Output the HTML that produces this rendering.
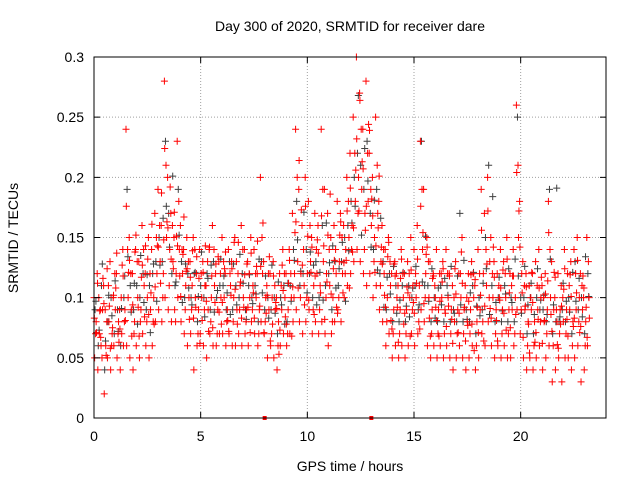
<!DOCTYPE html>
<html><head><meta charset="utf-8"><style>
html,body{margin:0;padding:0;background:#fff}
svg{display:block;font-family:"Liberation Sans",sans-serif}
</style></head><body>
<svg id="chart" width="640" height="480" viewBox="0 0 640 480" xmlns="http://www.w3.org/2000/svg">
<rect width="640" height="480" fill="#fff"/>
<g id="grid"></g>
<g id="marks"></g>
<rect x="94" y="57" width="512" height="361" fill="none" stroke="#000" stroke-width="1"/>
<g id="ticks"></g>
<text x="350" y="31" font-size="14" text-anchor="middle">Day 300 of 2020, SRMTID for receiver dare</text>
<text x="350" y="471" font-size="14" text-anchor="middle">GPS time / hours</text>
<text x="18" y="238" font-size="14" text-anchor="middle" transform="rotate(-90 18 238)">SRMTID / TECUs</text>
</svg>
<script>
const xTicks=[0,5,10,15,20];
const yTicks=[0,0.05,0.1,0.15,0.2,0.25,0.3];
const yTickLabels=["0","0.05","0.1","0.15","0.2","0.25","0.3"];
const timeStep=0.15;
const markerTimes=[8,13];
const redA=[.10,.12,.09,.11,.08,.13,.10,.12,.09,.14,.24,.15,.12,.14,.13,.16,.12,.15,.14,.17,.19,.16,.28,.2,.17,.15,.23,.16,.14,.15,.13,.15,.12,.14,.13,.11,.14,.16,.12,.13,.15,.12,.14,.13,.15,.12,.16,.14,.13,.15,.14,.12,.2,.13,.11,.12,.13,.10,.12,.14,.12,.14,.17,.24,.19,.16,.2,.18,.15,.17,.16,.24,.19,.17,.15,.16,.18,.17,.16,.2,.22,.25,.3,.27,.24,.28,.22,.2,.25,.18,.16,.14,.15,.12,.13,.11,.14,.12,.13,.15,.14,.16,.23,.19,.15,.13,.12,.14,.12,.13,.14,.12,.11,.13,.12,.15,.11,.12,.13,.11,.14,.19,.17,.2,.15,.13,.12,.14,.13,.15,.12,.14,.26,.18,.13,.12,.11,.12,.13,.14,.11,.12,.18,.13,.10,.12,.11,.14,.12,.13,.14,.15,.12,.10,.15];
const redB=[.08,.07,.09,.06,.08,.07,.09,.08,.07,.09,.10,.09,.08,.10,.09,.11,.10,.09,.10,.12,.13,.12,.15,.14,.13,.12,.14,.12,.11,.10,.11,.10,.09,.10,.11,.09,.10,.11,.09,.10,.10,.09,.11,.10,.09,.11,.10,.09,.10,.11,.10,.09,.12,.10,.09,.10,.09,.08,.09,.10,.09,.10,.12,.13,.12,.11,.12,.13,.11,.12,.11,.13,.12,.11,.10,.12,.13,.12,.14,.15,.16,.18,.20,.19,.17,.18,.16,.15,.17,.13,.12,.10,.11,.09,.10,.09,.10,.09,.10,.11,.10,.11,.14,.12,.10,.09,.10,.09,.10,.09,.10,.09,.08,.09,.10,.09,.08,.09,.10,.08,.09,.12,.11,.13,.10,.09,.10,.09,.10,.09,.09,.10,.15,.12,.09,.08,.09,.08,.09,.10,.08,.09,.10,.09,.08,.09,.08,.09,.09,.08,.09,.10,.09,.08,.10];
const redC=[.05,.04,.06,.02,.05,.04,.06,.05,.04,.06,.06,.05,.04,.06,.05,.07,.06,.05,.06,.08,.09,.08,.10,.09,.08,.09,.10,.08,.07,.06,.07,.04,.06,.07,.06,.05,.07,.06,.06,.07,.07,.06,.07,.06,.06,.07,.06,.07,.06,.08,.07,.06,.08,.07,.05,.06,.05,.04,.06,.07,.06,.07,.08,.09,.08,.07,.08,.09,.07,.08,.07,.08,.07,.06,.07,.08,.09,.08,.10,.11,.12,.13,.14,.13,.12,.11,.12,.10,.11,.09,.08,.06,.07,.05,.06,.05,.06,.05,.06,.07,.06,.07,.09,.08,.06,.05,.06,.05,.06,.05,.06,.05,.04,.05,.06,.05,.04,.05,.06,.04,.05,.07,.06,.08,.06,.05,.06,.05,.06,.05,.05,.06,.09,.07,.05,.04,.05,.04,.05,.06,.04,.05,.06,.03,.04,.05,.03,.05,.05,.04,.05,.06,.03,.04,.06];
const redD=[.07,.10,.05,.09,.11,.06,.12,.07,.10,.08,.14,.12,.07,.13,.08,.14,.08,.12,.08,.15,.16,.10,.21,.11,.16,.08,.18,.14,.09,.13,.09,.14,.07,.12,.09,.13,.08,.14,.07,.12,.13,.08,.12,.08,.13,.09,.14,.08,.12,.09,.12,.07,.15,.08,.12,.07,.11,.06,.11,.12,.07,.12,.10,.20,.10,.14,.10,.16,.09,.14,.09,.19,.10,.14,.08,.14,.10,.15,.12,.18,.14,.22,.17,.24,.14,.22,.19,.13,.21,.11,.14,.08,.13,.07,.12,.07,.12,.07,.12,.09,.12,.08,.19,.10,.13,.07,.11,.07,.12,.07,.12,.07,.10,.07,.12,.07,.10,.07,.12,.06,.12,.08,.14,.10,.12,.07,.11,.07,.12,.07,.11,.07,.21,.09,.11,.06,.10,.06,.11,.08,.10,.07,.14,.06,.09,.07,.10,.07,.11,.06,.12,.08,.11,.06,.13];
const redF=[.083,.112,.067,.095,.124,.058,.102,.137,.074,.118,.176,.131,.094,.152,.068,.127,.143,.086,.161,.109,.142,.187,.224,.158,.132,.171,.143,.101,.167,.124,.117,.083,.134,.062,.121,.097,.142,.075,.128,.088,.096,.138,.072,.124,.107,.146,.083,.119,.092,.137,.083,.147,.126,.071,.102,.064,.118,.091,.073,.106,.078,.131,.109,.163,.214,.127,.176,.098,.142,.118,.137,.168,.082,.152,.103,.131,.087,.163,.129,.172,.191,.158,.232,.264,.207,.176,.239,.168,.143,.201,.128,.092,.146,.074,.118,.063,.132,.087,.104,.123,.087,.132,.176,.095,.142,.068,.118,.081,.097,.124,.076,.118,.062,.103,.087,.112,.064,.097,.078,.115,.071,.156,.093,.172,.083,.117,.064,.108,.087,.132,.075,.118,.204,.142,.067,.109,.054,.096,.071,.108,.062,.103,.154,.072,.117,.058,.093,.124,.068,.101,.083,.131,.076,.108,.067];
const redG=[.071,.089,.116,.052,.093,.075,.108,.063,.127,.081,.121,.068,.138,.092,.117,.084,.132,.104,.078,.143,.112,.148,.163,.192,.124,.151,.118,.136,.122,.082,.139,.092,.116,.081,.143,.072,.118,.096,.134,.078,.124,.081,.102,.146,.078,.113,.092,.128,.071,.104,.126,.093,.162,.087,.134,.078,.096,.053,.127,.084,.112,.068,.154,.108,.173,.094,.151,.121,.086,.148,.104,.143,.113,.186,.124,.092,.152,.104,.131,.108,.138,.206,.172,.213,.156,.244,.182,.121,.158,.142,.102,.134,.081,.128,.092,.116,.078,.109,.068,.096,.112,.074,.154,.136,.083,.116,.092,.068,.113,.087,.093,.082,.124,.071,.138,.092,.077,.119,.056,.092,.102,.064,.128,.091,.142,.081,.098,.123,.073,.104,.118,.086,.172,.104,.093,.078,.121,.063,.082,.117,.081,.114,.086,.121,.061,.078,.107,.082,.119,.076,.104,.071,.118,.092,.083];
const blackE=[.09,.06,.11,.04,.08,.10,.07,.09,.06,.10,.19,.11,.09,.11,.10,.12,.09,.11,.12,.13,.15,.13,.23,.17,.12,.11,.19,.13,.10,.12,.10,.12,.08,.11,.10,.12,.09,.13,.10,.11,.11,.09,.13,.09,.11,.10,.12,.09,.11,.10,.11,.08,.13,.09,.10,.09,.10,.07,.10,.11,.08,.11,.14,.18,.11,.12,.14,.12,.10,.13,.10,.16,.11,.12,.09,.13,.11,.13,.15,.16,.18,.20,.22,.21,.19,.23,.17,.14,.19,.12,.13,.09,.12,.08,.11,.08,.11,.08,.11,.10,.11,.09,.23,.11,.11,.08,.10,.08,.11,.08,.11,.08,.09,.08,.17,.08,.09,.08,.11,.07,.10,.09,.15,.21,.11,.08,.10,.08,.11,.08,.10,.08,.25,.10,.10,.07,.10,.07,.10,.09,.09,.08,.19,.07,.08,.08,.09,.08,.10,.07,.13,.09,.10,.07,.12];
const blackH=[.097,.073,.128,.064,.102,.085,.114,.072,.091,.118,.134,.088,.112,.078,.135,.096,.119,.071,.128,.097,.127,.166,.176,.142,.201,.113,.152,.096,.128,.108,.094,.121,.101,.138,.084,.116,.127,.088,.106,.132,.118,.104,.086,.128,.094,.136,.112,.082,.119,.095,.103,.132,.104,.118,.083,.127,.087,.113,.094,.078,.112,.097,.131,.148,.122,.171,.104,.138,.127,.094,.121,.098,.162,.129,.143,.108,.124,.146,.097,.139,.162,.176,.268,.152,.224,.197,.142,.181,.123,.166,.092,.117,.103,.126,.087,.098,.121,.093,.084,.108,.126,.094,.113,.151,.097,.124,.083,.108,.094,.116,.102,.126,.087,.118,.094,.131,.082,.104,.121,.093,.085,.112,.124,.086,.184,.096,.117,.089,.103,.124,.096,.132,.118,.087,.126,.094,.112,.086,.124,.098,.102,.086,.132,.094,.191,.084,.112,.097,.088,.121,.097,.116,.084,.134,.101];

const NS="http://www.w3.org/2000/svg";
const X0=94,X1=606,Y0=418,Y1=57;
function xs(t){return X0+(t/24)*(X1-X0);}
function ys(v){return Y0-(v/0.3)*(Y0-Y1);}
function mk(tag,attrs,parent){const e=document.createElementNS(NS,tag);for(const k in attrs)e.setAttribute(k,attrs[k]);parent.appendChild(e);return e;}
const grid=document.getElementById('grid'),ticks=document.getElementById('ticks'),marks=document.getElementById('marks');
xTicks.forEach(t=>{
  const x=xs(t);
  if(t>0){const g=mk('line',{x1:x,x2:x,y1:Y0,y2:Y1,stroke:'#a0a0a0','stroke-dasharray':'1,2'},grid);
  
  }
  const l=mk('path',{d:`M${x},${Y0}v-6M${x},${Y1}v6`,stroke:'#000'},ticks);
  
  
  const tx=mk('text',{x:x,y:Y0+23,'font-size':14,'text-anchor':'middle'},ticks);tx.textContent=String(t);
  
  
});
yTicks.forEach((v,i)=>{
  const y=ys(v);
  if(v>0&&v<0.3){const g=mk('line',{x1:X0,x2:X1,y1:y,y2:y,stroke:'#a0a0a0','stroke-dasharray':'1,2'},grid);
  
  }
  const l=mk('path',{d:`M${X0},${y}h6M${X1},${y}h-6`,stroke:'#000'},ticks);
  
  
  const tx=mk('text',{x:X0-10,y:y+5,'font-size':14,'text-anchor':'end'},ticks);tx.textContent=yTickLabels[i];
  
  
});
function drawSeries(vals,offset,color,name){
  let d='';
  vals.forEach((v,i)=>{const x=xs(i*timeStep+offset),y=ys(v);d+=`M${x-3.5},${y}h7M${x},${y-3.5}v7`;});
  const p=mk('path',{d:d,stroke:color,'stroke-width':1,fill:'none'},marks);
  
  
}
drawSeries(blackE,0.05,'#404040','series-black');
drawSeries(blackH,0.09,'#404040','series-black-2');
drawSeries(redA,0,'#ff0000','series-red-a');
drawSeries(redB,0.1,'#ff0000','series-red-b');
drawSeries(redC,0.03,'#ff0000','series-red-c');
drawSeries(redD,0.075,'#ff0000','series-red-d');
drawSeries(redF,0.015,'#ff0000','series-red-f');
drawSeries(redG,0.12,'#ff0000','series-red-g');
markerTimes.forEach(t=>{
  const r=mk('rect',{x:xs(t)-2,y:Y0-2,width:4,height:4,fill:'#ff0000'},marks);
  
  
});
</script>
</body></html>
